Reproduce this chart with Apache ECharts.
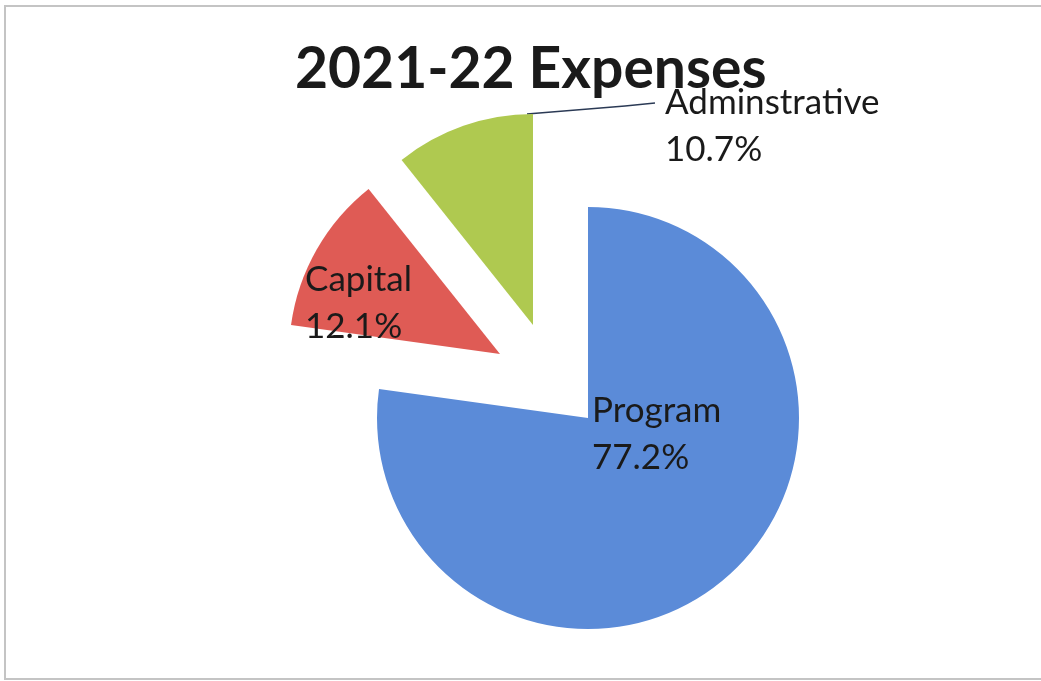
<!DOCTYPE html>
<html>
<head>
<meta charset="utf-8">
<script src="https://cdn.jsdelivr.net/npm/echarts@6/dist/echarts.min.js"></script>
<style>
html,body{margin:0;padding:0;background:#fff;}
#frame{position:absolute;left:4px;top:5px;width:1050px;height:675px;border:2px solid #c4c4c4;box-sizing:border-box;}
#chart{position:absolute;left:0;top:0;width:1041px;height:681px;}
</style>
</head>
<body>
<div id="frame"></div>
<div id="chart"></div>
<script>
const titleText = '2021-22 Expenses';
const categories = ['Program', 'Capital', 'Adminstrative'];
const shares = [77.2, 12.1, 10.7];
const colors = ['#5B8BD8', '#DF5B55', '#AFC950'];

// layout: where each (exploded) slice's apex sits, and where its label sits
const FONT = 'Lato';
const RADIUS = 211;
const sliceCenters = [[588, 418], [500, 354], [533, 325]];
const labelSpots = [
  {x: 592, y: 434},
  {x: 305, y: 303},
  {x: 665, y: 126}
];

function sliceSeries(k) {
  return {
    type: 'pie',
    center: sliceCenters[k],
    radius: RADIUS,
    startAngle: 90,
    clockwise: true,
    silent: true,
    avoidLabelOverlap: false,
    emphasis: {disabled: true},
    itemStyle: {borderWidth: 0},
    label: {
      show: true,
      fontFamily: FONT,
      fontSize: 35,
      lineHeight: 47,
      color: '#1a1a1a',
      formatter: p => p.name + '\n' + p.value.toFixed(1) + '%'
    },
    labelLine: {show: false},
    labelLayout: function (params) {
      if (params.dataIndex !== k) return {};
      const s = labelSpots[k];
      const out = {x: s.x, y: s.y, align: 'left', verticalAlign: 'middle'};
      if (k === 2) {
        const r = params.rect;
        out.labelLinePoints = [
          [r.x + r.width - 6, r.y],
          [s.x - 40, s.y - 20],
          [s.x - 10, s.y - 23]
        ];
      }
      return out;
    },
    data: categories.map((c, i) => ({
      name: c,
      value: shares[i],
      itemStyle: {color: i === k ? colors[i] : 'rgba(0,0,0,0)'},
      label: {show: i === k, position: k === 2 ? 'outside' : 'inside'},
      labelLine: (i === k && k === 2)
        ? {show: true, length: 15, length2: 10, smooth: false, lineStyle: {color: '#2b3a55', width: 1.5}}
        : {show: false}
    }))
  };
}

const chart = echarts.init(document.getElementById('chart'));
chart.setOption({
  animation: false,
  title: {
    text: titleText,
    left: 290,
    top: 36,
    textStyle: {fontFamily: FONT, fontWeight: 'bold', fontSize: 57, color: '#1a1a1a'}
  },
  series: [sliceSeries(0), sliceSeries(1), sliceSeries(2)]
});
</script>
</body>
</html>
